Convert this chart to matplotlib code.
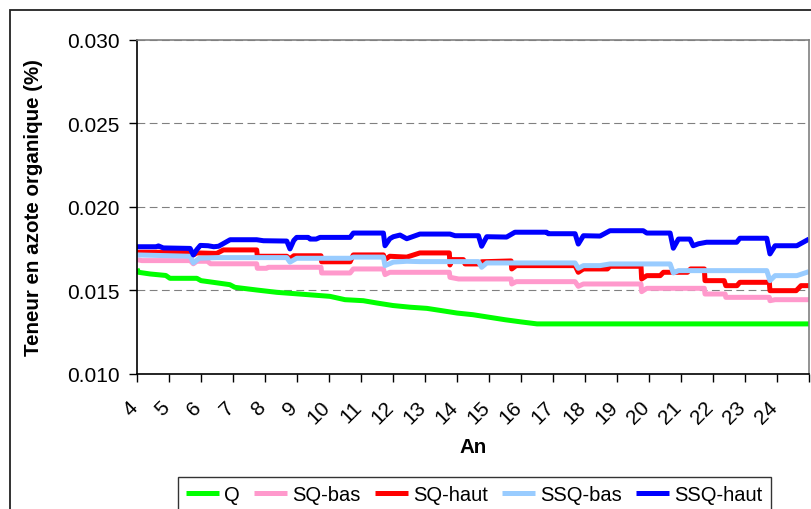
import matplotlib
matplotlib.use("Agg")
import matplotlib.pyplot as plt
import matplotlib.transforms as mtransforms
from matplotlib.patches import Rectangle

plt.rcParams['font.family'] = ['Liberation Sans', 'DejaVu Sans']

# years (An) and organic nitrogen content (%)
q_x = [4.0, 4.05, 4.41, 4.90, 5.03, 5.87, 6.00, 6.38, 6.90, 7.06, 7.74, 8.37, 9.0,
       10.03, 10.5, 11.07, 11.5, 12.0, 12.53, 13.06, 13.5, 14.0, 14.5, 15.0, 15.5,
       16.0, 16.5, 25.0]
q_y = [0.01629, 0.01609, 0.01599, 0.01590, 0.01573, 0.01573, 0.01559, 0.01549, 0.01535,
       0.01519, 0.01503, 0.01489, 0.01480, 0.01465, 0.01445, 0.01439, 0.01425, 0.01410,
       0.01400, 0.01393, 0.01380, 0.01365, 0.01355, 0.01340, 0.01325, 0.01312, 0.01300,
       0.01300]

sq_bas_x = [4.0, 4.15, 5.66, 5.76, 5.87, 6.20, 6.30, 7.74, 7.76, 8.05, 8.10, 9.75, 9.77,
            10.66, 10.76, 11.70, 11.75, 11.90, 13.76, 13.78, 14.05, 15.69, 15.71, 15.85,
            17.69, 17.79, 17.95, 19.75, 19.77, 19.93, 21.73, 21.75, 22.38, 22.40, 23.76,
            23.78, 23.94, 25.0]
sq_bas_y = [0.01685, 0.01679, 0.01679, 0.01660, 0.01675, 0.01675, 0.01660, 0.01660,
            0.01633, 0.01633, 0.01639, 0.01639, 0.01605, 0.01605, 0.01629, 0.01629,
            0.01595, 0.01609, 0.01609, 0.01579, 0.01569, 0.01569, 0.01539, 0.01553,
            0.01553, 0.01525, 0.01539, 0.01539, 0.01493, 0.01513, 0.01513, 0.01479,
            0.01479, 0.01459, 0.01459, 0.01439, 0.01445, 0.01445]

sq_haut_x = [4.0, 5.66, 5.76, 5.87, 6.49, 6.70, 7.74, 7.76, 8.68, 8.78, 8.90, 9.75, 9.77,
             10.66, 10.76, 11.70, 11.75, 11.90, 12.43, 12.84, 13.76, 13.78, 13.85, 14.20,
             14.25, 14.67, 14.77, 15.69, 15.71, 15.85, 17.69, 17.79, 17.95, 18.70, 18.78,
             19.75, 19.77, 19.93, 20.35, 20.45, 21.20, 21.30, 21.73, 21.75, 22.35, 22.40,
             22.75, 22.84, 23.76, 23.78, 24.60, 24.75, 25.0]
sq_haut_y = [0.01729, 0.01729, 0.01713, 0.01725, 0.01722, 0.01743, 0.01743, 0.01705,
             0.01705, 0.01690, 0.01708, 0.01708, 0.01672, 0.01672, 0.01713, 0.01713,
             0.01685, 0.01705, 0.01700, 0.01725, 0.01725, 0.01653, 0.01685, 0.01685,
             0.01659, 0.01659, 0.01672, 0.01677, 0.01629, 0.01649, 0.01649, 0.01609,
             0.01629, 0.01629, 0.01645, 0.01645, 0.01569, 0.01589, 0.01589, 0.01609,
             0.01609, 0.01629, 0.01629, 0.01559, 0.01559, 0.01529, 0.01529, 0.01549,
             0.01549, 0.01499, 0.01499, 0.01529, 0.01529]

ssq_bas_x = [4.0, 5.66, 5.76, 5.94, 6.49, 8.68, 8.78, 8.99, 10.66, 10.76, 11.70, 11.75,
             12.01, 12.43, 12.84, 14.67, 14.77, 14.93, 17.69, 17.79, 17.95, 18.47, 18.78,
             20.66, 20.76, 20.92, 23.68, 23.78, 23.94, 24.62, 25.0]
ssq_bas_y = [0.01713, 0.01705, 0.01665, 0.01693, 0.01697, 0.01697, 0.01670, 0.01693,
             0.01693, 0.01700, 0.01700, 0.01649, 0.01670, 0.01675, 0.01673, 0.01673,
             0.01639, 0.01665, 0.01665, 0.01633, 0.01649, 0.01649, 0.01659, 0.01659,
             0.01605, 0.01619, 0.01619, 0.01559, 0.01589, 0.01589, 0.01613]

ssq_haut_x = [4.00, 4.60, 4.67, 4.82, 5.66, 5.76, 5.87, 5.98, 6.22, 6.40, 6.55, 6.91,
              7.74, 7.95, 8.68, 8.78, 8.90, 8.99, 9.35, 9.41, 9.60, 9.72, 10.66, 10.76,
              11.70, 11.75, 11.90, 12.01, 12.22, 12.43, 12.84, 13.78, 13.94, 14.67, 14.77,
              14.93, 15.55, 15.81, 16.80, 16.85, 17.69, 17.79, 17.95, 18.47, 18.78, 19.82,
              19.93, 20.66, 20.76, 20.92, 21.28, 21.38, 21.55, 21.80, 22.74, 22.84, 23.68,
              23.78, 23.94, 24.62, 25.0]
ssq_haut_y = [0.01762, 0.01762, 0.01767, 0.01755, 0.01752, 0.01713, 0.01745, 0.01770,
              0.01768, 0.01762, 0.01765, 0.01804, 0.01804, 0.01798, 0.01796, 0.01749,
              0.01800, 0.01818, 0.01818, 0.01808, 0.01808, 0.01818, 0.01818, 0.01844,
              0.01844, 0.01768, 0.01810, 0.01822, 0.01832, 0.01810, 0.01838, 0.01838,
              0.01828, 0.01828, 0.01765, 0.01822, 0.01820, 0.01849, 0.01849, 0.01840,
              0.01840, 0.01778, 0.01828, 0.01826, 0.01858, 0.01858, 0.01844, 0.01844,
              0.01753, 0.01808, 0.01808, 0.01768, 0.01780, 0.01789, 0.01789, 0.01813,
              0.01813, 0.01719, 0.01768, 0.01768, 0.01808]

series = [
    ("Q", q_x, q_y, "#00FF00"),
    ("SQ-bas", sq_bas_x, sq_bas_y, "#FF99CC"),
    ("SQ-haut", sq_haut_x, sq_haut_y, "#FF0000"),
    ("SSQ-bas", ssq_bas_x, ssq_bas_y, "#99CCFF"),
    ("SSQ-haut", ssq_haut_x, ssq_haut_y, "#0000FF"),
]

year_ticks = list(range(4, 26))
year_labels = [str(v) for v in range(4, 25)] + [""]

W, H = 812, 510
fig = plt.figure(figsize=(W / 100, H / 100), dpi=100)
ax = fig.add_axes([137 / W, 1 - 375 / H, (809 - 137) / W, (375 - 41) / H])

for name, xs, ys, col in series:
    ax.plot(xs, ys, color=col, lw=3.6, label=name, solid_joinstyle="round",
            solid_capstyle="butt")

ax.set_xlim(4, 25)
ax.set_ylim(0.010, 0.030)
ax.set_yticks([0.010, 0.015, 0.020, 0.025, 0.030])
ax.set_yticklabels(["0.010", "0.015", "0.020", "0.025", "0.030"])
ax.set_xticks(year_ticks)
ax.set_xticklabels(year_labels)

ax.yaxis.grid(True, color="#808080", linestyle=(0, (7, 4)), linewidth=0.8)
ax.set_axisbelow(True)

for s in ["top", "right"]:
    ax.spines[s].set_color("#808080")
    ax.spines[s].set_linewidth(1.2)
for s in ["left", "bottom"]:
    ax.spines[s].set_color("black")
    ax.spines[s].set_linewidth(1.2)

ax.tick_params(axis="y", direction="out", length=5.5, width=1, pad=7, labelsize=15)
ax.tick_params(axis="x", direction="out", length=5.5, width=1, pad=11, labelsize=15)

shift = mtransforms.ScaledTranslation(-0.09, 0, fig.dpi_scale_trans)
for lab in ax.get_xticklabels():
    lab.set_rotation(45)
    lab.set_ha("right")
    lab.set_va("top")
    lab.set_rotation_mode("anchor")
    lab.set_transform(lab.get_transform() + shift)

ax.set_ylabel("Teneur en azote organique (%)", fontsize=14.8, fontweight="bold")
ax.yaxis.set_label_coords(-0.14, 0.5)
ax.set_xlabel("An", fontsize=14.8, fontweight="bold")
ax.xaxis.set_label_coords(0.5, -0.19)

leg = fig.legend(loc="upper left", bbox_to_anchor=(178 / W, 1 - 478 / H), ncol=5,
                 fontsize=14.5, frameon=True, fancybox=False, borderaxespad=0,
                 handlelength=1.65, handletextpad=0.25, columnspacing=0.7,
                 borderpad=0.4)
leg.get_frame().set_edgecolor("black")
leg.get_frame().set_linewidth(1.0)

# outer chart frame (cut by the image edge)
fig.patches.append(Rectangle((10 / W, -0.1), 1.1, 1.1 - 11 / H, transform=fig.transFigure,
                             fill=False, ec="#222222", lw=1.3))

fig.savefig("out.png", dpi=100)
